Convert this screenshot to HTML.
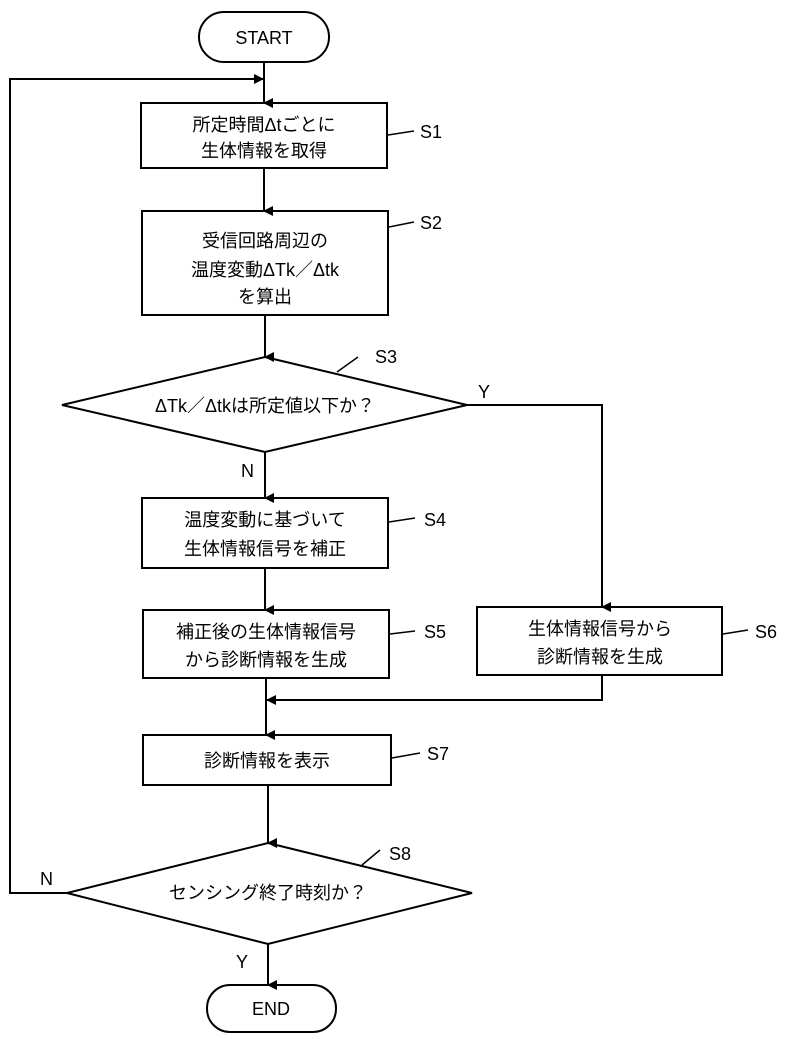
<!DOCTYPE html>
<html><head><meta charset="utf-8"><style>
body{margin:0;background:#fff}
svg text{font-family:"Liberation Sans","Noto Sans CJK JP",sans-serif;font-size:18px;fill:#000}
</style></head><body>
<svg width="787" height="1034" viewBox="0 0 787 1034" xmlns="http://www.w3.org/2000/svg">
<defs><marker id="a" markerWidth="10" markerHeight="10" refX="5" refY="9" orient="auto" markerUnits="userSpaceOnUse" viewBox="0 0 10 10"><path d="M0,0 L10,0 L5,10z" fill="#000"/></marker>
<marker id="l" markerWidth="10" markerHeight="10" refX="9" refY="5" orient="auto-start-reverse" markerUnits="userSpaceOnUse" viewBox="0 0 10 10"><path d="M0,0 L10,5 L0,10z" fill="#000"/></marker></defs>
<g stroke="#000" stroke-width="2" fill="none">
<rect x="199" y="12" width="130" height="50" rx="25"/>
<rect x="141" y="103" width="246" height="65"/>
<rect x="142" y="211" width="246" height="104"/>
<polygon points="265,357 467,405 265,452 62,405"/>
<rect x="142" y="498" width="246" height="70"/>
<rect x="143" y="610" width="246" height="68"/>
<rect x="477" y="607" width="245" height="68"/>
<rect x="143" y="735" width="248" height="50"/>
<polygon points="268,843 472,893 268,944 67,893"/>
<rect x="207" y="985" width="129" height="47" rx="23"/>
<line x1="264" y1="62" x2="264" y2="103" marker-end="url(#a)"/>
<polyline points="67,893 10,893 10,79 263,79" marker-end="url(#l)"/>
<line x1="264" y1="168" x2="264" y2="211" marker-end="url(#a)"/>
<line x1="265" y1="315" x2="265" y2="357" marker-end="url(#a)"/>
<line x1="265" y1="452" x2="265" y2="498" marker-end="url(#a)"/>
<line x1="265" y1="568" x2="265" y2="610" marker-end="url(#a)"/>
<polyline points="467,405 602,405 602,607" marker-end="url(#a)"/>
<line x1="266" y1="678" x2="266" y2="735" marker-end="url(#a)"/>
<polyline points="602,675 602,700 267,700" marker-end="url(#l)"/>
<line x1="268" y1="785" x2="268" y2="843" marker-end="url(#a)"/>
<line x1="268" y1="944" x2="268" y2="985" marker-end="url(#a)"/>
<g stroke-width="1.5">
<line x1="388" y1="135" x2="414" y2="131"/>
<line x1="389" y1="227" x2="414" y2="222"/>
<line x1="337" y1="372" x2="358" y2="357"/>
<line x1="389" y1="522" x2="415" y2="518"/>
<line x1="390" y1="634" x2="415" y2="631"/>
<line x1="723" y1="634" x2="748" y2="630"/>
<line x1="392" y1="758" x2="420" y2="753"/>
<line x1="362" y1="865" x2="380" y2="850"/>
</g></g>
<g text-anchor="middle">
<text x="264" y="44">START</text>
<text x="264" y="131">所定時間Δtごとに</text>
<text x="264" y="157">生体情報を取得</text>
<text x="265" y="247">受信回路周辺の</text>
<text x="265" y="276">温度変動ΔTk／Δtk</text>
<text x="265" y="303">を算出</text>
<text x="265" y="412">ΔTk／Δtkは所定値以下か？</text>
<text x="265" y="526">温度変動に基づいて</text>
<text x="265" y="555">生体情報信号を補正</text>
<text x="266" y="638">補正後の生体情報信号</text>
<text x="266" y="666">から診断情報を生成</text>
<text x="600" y="635">生体情報信号から</text>
<text x="600" y="663">診断情報を生成</text>
<text x="267" y="767">診断情報を表示</text>
<text x="268" y="899">センシング終了時刻か？</text>
<text x="271" y="1015">END</text>
</g>
<text x="420" y="138">S1</text>
<text x="420" y="229">S2</text>
<text x="375" y="363">S3</text>
<text x="424" y="526">S4</text>
<text x="424" y="638">S5</text>
<text x="755" y="638">S6</text>
<text x="427" y="760">S7</text>
<text x="389" y="860">S8</text>
<text x="478" y="398">Y</text>
<text x="241" y="477">N</text>
<text x="40" y="885">N</text>
<text x="236" y="968">Y</text>
</svg>
</body></html>
